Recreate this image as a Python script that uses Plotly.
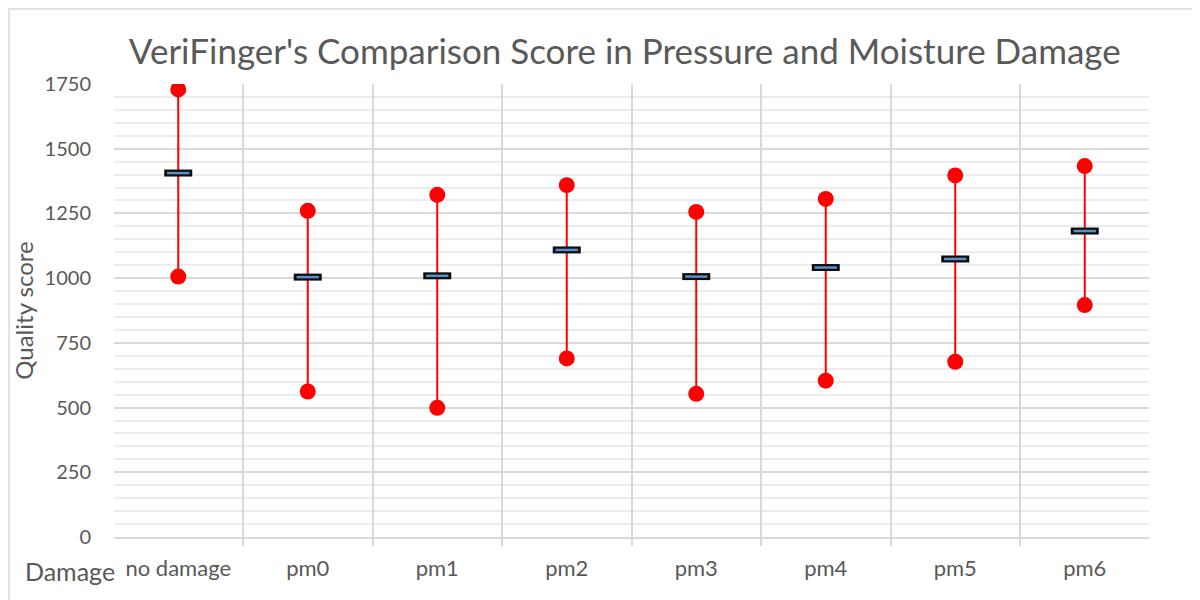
import plotly.graph_objects as go

categories = ["no damage", "pm0", "pm1", "pm2", "pm3", "pm4", "pm5", "pm6"]
max_scores = [1729, 1260, 1322, 1359, 1256, 1306, 1397, 1433]
min_scores = [1006, 562, 499, 690, 553, 604, 677, 896]
mean_scores = [1406, 1004, 1009, 1109, 1006, 1041, 1074, 1182]
y_ticks = [0, 250, 500, 750, 1000, 1250, 1500, 1750]

FONT = "Lato"
GREY = "#595959"

L, R, T, B = 106, 59, 76, 71
W, H = 1200, 600
pw = W - L - R
ph = H - T - B

fig = go.Figure()

# high-low range lines
lx, ly = [], []
for c, lo, hi in zip(categories, min_scores, max_scores):
    lx += [c, c, None]
    ly += [lo, hi, None]
fig.add_trace(go.Scatter(x=lx, y=ly, mode="lines",
                         line=dict(color="#ff0000", width=2),
                         hoverinfo="skip", showlegend=False))

# max and min points
fig.add_trace(go.Scatter(x=categories, y=max_scores, mode="markers",
                         marker=dict(color="#ff0000", size=16),
                         name="max", showlegend=False))
fig.add_trace(go.Scatter(x=categories, y=min_scores, mode="markers",
                         marker=dict(color="#ff0000", size=16),
                         name="min", showlegend=False))

# mean markers (box: black outline + blue fill)
fig.add_trace(go.Scatter(x=categories, y=mean_scores, mode="markers",
                         marker=dict(symbol="line-ew", size=20,
                                     line=dict(color="#0d0d0d", width=7)),
                         hoverinfo="skip", showlegend=False))
fig.add_trace(go.Scatter(x=categories, y=mean_scores, mode="markers",
                         marker=dict(symbol="line-ew", size=16,
                                     line=dict(color="#5b8fc9", width=2.5)),
                         name="mean", showlegend=False))

fig.update_layout(
    width=W, height=H,
    paper_bgcolor="white", plot_bgcolor="white",
    margin=dict(l=L, r=R, t=T, b=B),
    font=dict(family=FONT, color=GREY),
    title=dict(text="VeriFinger's Comparison Score in Pressure and Moisture Damage",
               x=0.514, xanchor="center", y=0.927, yanchor="middle",
               font=dict(family=FONT, size=35, color=GREY)),
    xaxis=dict(type="category", categoryorder="array", categoryarray=categories,
               tickson="boundaries", showgrid=True, gridcolor="#d9d9d9", gridwidth=1.5,
               ticks="outside", ticklen=7, tickcolor="#d9d9d9", tickwidth=1.5,
               showline=True, linecolor="#d9d9d9", linewidth=1.5,
               tickfont=dict(size=22, color=GREY), ticklabelstandoff=11,
               zeroline=False, mirror=False),
    yaxis=dict(range=[0, 1750], tickvals=y_ticks, showgrid=True,
               gridcolor="#d9d9d9", gridwidth=1.5, zeroline=False,
               tickfont=dict(size=20, color=GREY), ticks="", ticklabelstandoff=22,
               minor=dict(dtick=50, showgrid=True, gridcolor="#ececec", gridwidth=1.5),
               title=dict(text="Quality score", font=dict(size=24, color=GREY), standoff=4)),
)

fig.add_annotation(text="Damage", xref="paper", yref="paper",
                   x=0.003, y=(H - B - 563) / ph, xanchor="right", yanchor="middle",
                   showarrow=False, font=dict(size=25, color=GREY, family=FONT))

# outer chart border (top and left visible)
fig.add_shape(type="rect", xref="paper", yref="paper",
              x0=(1 - L) / pw, x1=(W + 100 - L) / pw,
              y0=-(H + 100 - (H - B)) / ph,
              y1=(H - B - 1) / ph,
              line=dict(color="#d9d9d9", width=1.5), fillcolor="rgba(0,0,0,0)", layer="below")

fig.write_html("out.html")
